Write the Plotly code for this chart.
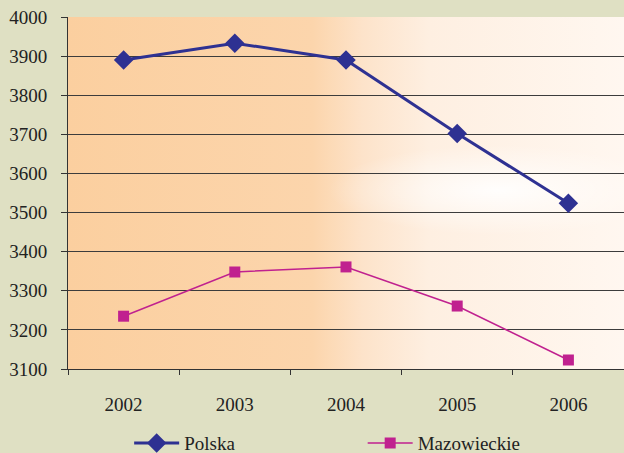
import base64
import plotly.graph_objects as go

years = ['2002', '2003', '2004', '2005', '2006']
polska = [3890, 3933, 3890, 3702, 3524]
mazowieckie = [3235, 3348, 3361, 3261, 3123]

# gradient fill of the plot area (orange on the left, fading to white)
svg = '''<svg xmlns="http://www.w3.org/2000/svg" width="556" height="352" viewBox="0 0 556 352" preserveAspectRatio="none">
<defs>
<linearGradient id="g" x1="0" y1="0" x2="1" y2="0">
<stop offset="0" stop-color="#fbcf9f"/>
<stop offset="0.44" stop-color="#fcd5ac"/>
<stop offset="0.53" stop-color="#fde3ca"/>
<stop offset="0.65" stop-color="#feefe1"/>
<stop offset="1" stop-color="#fff7f0"/>
</linearGradient>
<radialGradient id="w" cx="0.5" cy="0.5" r="0.5">
<stop offset="0" stop-color="#ffffff" stop-opacity="0.9"/>
<stop offset="1" stop-color="#ffffff" stop-opacity="0"/>
</radialGradient>
</defs>
<rect width="556" height="352" fill="url(#g)"/>
<ellipse cx="430" cy="173" rx="170" ry="45" fill="url(#w)"/>
</svg>'''
bg_src = 'data:image/svg+xml;base64,' + base64.b64encode(svg.encode()).decode()

fig = go.Figure()
fig.add_trace(go.Scatter(x=years, y=polska, name='Polska', mode='lines+markers',
                         line=dict(color='#2e3192', width=3),
                         marker=dict(symbol='diamond', size=15, color='#2e3192'),
                         legend='legend'))
fig.add_trace(go.Scatter(x=years, y=mazowieckie, name='Mazowieckie', mode='lines+markers',
                         line=dict(color='#c0218f', width=1.5),
                         marker=dict(symbol='square', size=11, color='#c0218f'),
                         legend='legend2'))

fig.add_layout_image(dict(source=bg_src, xref='paper', yref='paper', x=0, y=1,
                          sizex=1, sizey=1, sizing='stretch', xanchor='left',
                          yanchor='top', layer='below'))

leg = dict(orientation='h', yref='container', y=0.022, yanchor='middle', xanchor='left',
           bgcolor='rgba(0,0,0,0)', itemwidth=45, font=dict(size=19))
fig.update_layout(
    width=624, height=453,
    margin=dict(l=68, r=0, t=17, b=84),
    paper_bgcolor='#dfe0c3',
    plot_bgcolor='rgba(0,0,0,0)',
    font=dict(family="'Liberation Serif', 'Times New Roman', serif", size=19, color='#222222'),
    showlegend=True,
    legend=dict(leg, x=0.11),
    legend2=dict(leg, x=0.53),
)
fig.update_xaxes(type='category', range=[-0.5, 4.5], showgrid=False,
                 showline=True, linecolor='#333333', linewidth=1,
                 ticks='outside', tickson='boundaries', ticklen=5, tickcolor='#333333',
                 ticklabelstandoff=18)
fig.update_yaxes(range=[3100, 4000], dtick=100, showgrid=True, gridcolor='#3c3c3c',
                 gridwidth=1, showline=True, linecolor='#333333', linewidth=1,
                 ticks='outside', ticklen=6, tickcolor='#333333', zeroline=False,
                 ticklabelstandoff=10)

fig.write_html('out.html', config={'displayModeBar': False},
               post_script="document.body.style.margin='0';")
